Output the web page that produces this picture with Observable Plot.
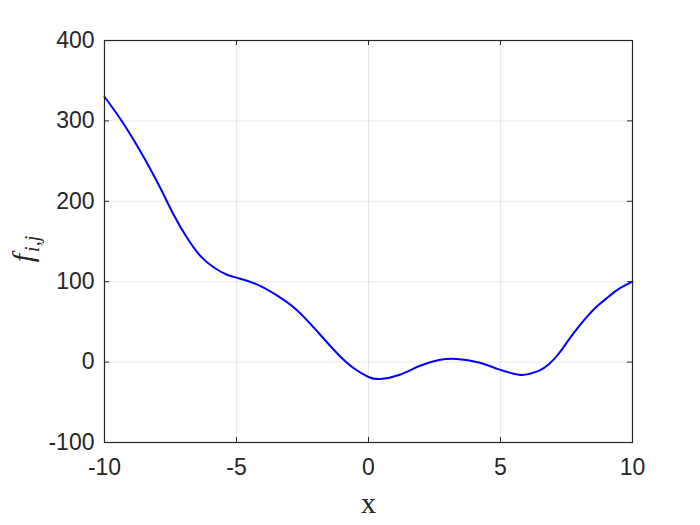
<!DOCTYPE html>
<html>
<head>
<meta charset="utf-8">
<script src="https://cdn.jsdelivr.net/npm/d3@7"></script>
<script src="https://cdn.jsdelivr.net/npm/@observablehq/plot@0.6"></script>
<style>
  html, body { margin: 0; padding: 0; background: #fff; }
</style>
</head>
<body>
<div id="chart"></div>
<script>
const xs = [-10, -9.41, -8.9, -8.39, -7.89, -7.39, -6.88, -6.38, -5.87, -5.36, -4.92, -4.23, -3.47, -2.71, -1.95, -1.19, -0.57, 0.0, 0.44, 1.19, 1.95, 2.71, 3.34, 4.18, 4.94, 5.69, 6.07, 6.45, 6.83, 7.21, 7.59, 7.97, 8.34, 8.72, 9.1, 9.48, 10];
const ys = [330, 303, 276.5, 247.7, 216.8, 184, 155, 132.5, 118, 108.6, 104.4, 96.7, 83, 64.6, 38.5, 11, -7.4, -18.5, -21, -15.7, -4.6, 2.8, 4, -0.5, -9, -15.6, -14.8, -11, -2.8, 10.7, 28, 44.4, 58.8, 71.2, 81.5, 91, 100];
const xTicks = [-10, -5, 0, 5, 10];
const yTicks = [-100, 0, 100, 200, 300, 400];
const xLabel = "x";

const data = xs.map((x, i) => ({x, y: ys[i]}));
const H = 525, mt = 40, mb = 83;
const plotH = H - mt - mb;
const W = 700, ml = 104, mr = 68;
const plotW = W - ml - mr;
const axisColor = "#262626";
const fmt = d => d < 0 ? "-" + Math.abs(d) : String(d);

const chart = Plot.plot({
  width: W,
  height: H,
  marginLeft: ml,
  marginRight: mr,
  marginTop: mt,
  marginBottom: mb,
  style: {fontFamily: "'Liberation Sans', Arial, sans-serif", background: "#fff", color: axisColor},
  x: {domain: [-10, 10], ticks: xTicks},
  y: {domain: [-100, 400], ticks: yTicks},
  marks: [
    Plot.gridX(xTicks, {stroke: "#000", strokeOpacity: 0.15, strokeWidth: 0.6}),
    Plot.gridY(yTicks, {stroke: "#000", strokeOpacity: 0.15, strokeWidth: 0.6}),
    Plot.axisX(xTicks, {tickSize: 0, tickPadding: 16, fontSize: 23, fill: axisColor, label: null, tickFormat: fmt}),
    Plot.axisY(yTicks, {tickSize: 0, tickPadding: 10, fontSize: 23, fill: axisColor, label: null, tickFormat: fmt}),
    // inward ticks on all four sides
    Plot.tickX(xTicks, {x: d => d, insetTop: plotH - 5, stroke: axisColor, strokeWidth: 1}),
    Plot.tickX(xTicks, {x: d => d, insetBottom: plotH - 5, stroke: axisColor, strokeWidth: 1}),
    Plot.tickY(yTicks, {y: d => d, insetRight: plotW - 5, stroke: axisColor, strokeWidth: 1}),
    Plot.tickY(yTicks, {y: d => d, insetLeft: plotW - 5, stroke: axisColor, strokeWidth: 1}),
    Plot.line(data, {x: "x", y: "y", curve: "natural", stroke: "#0000ff", strokeWidth: 2}),
    Plot.frame({stroke: axisColor, strokeWidth: 1.2}),
    Plot.text([xLabel], {frameAnchor: "bottom", dy: 70, fontSize: 30, fontFamily: "'Liberation Serif', 'DejaVu Serif', serif", fill: axisColor, lineAnchor: "bottom"})
  ]
});

// y label f_{i,j}
const svg = d3.select(chart);
const lab = svg.append("text")
  .attr("transform", `translate(33, 249) rotate(-90)`)
  .attr("text-anchor", "middle")
  .attr("fill", axisColor)
  .attr("font-family", "'Liberation Serif', 'DejaVu Serif', serif")
  .attr("font-style", "italic")
  .attr("font-size", 30);
lab.append("tspan").text("f");
lab.append("tspan").attr("font-size", 20).attr("dy", 6).attr("dx", 2).text("i,j");

document.getElementById("chart").appendChild(chart);
</script>
</body>
</html>
